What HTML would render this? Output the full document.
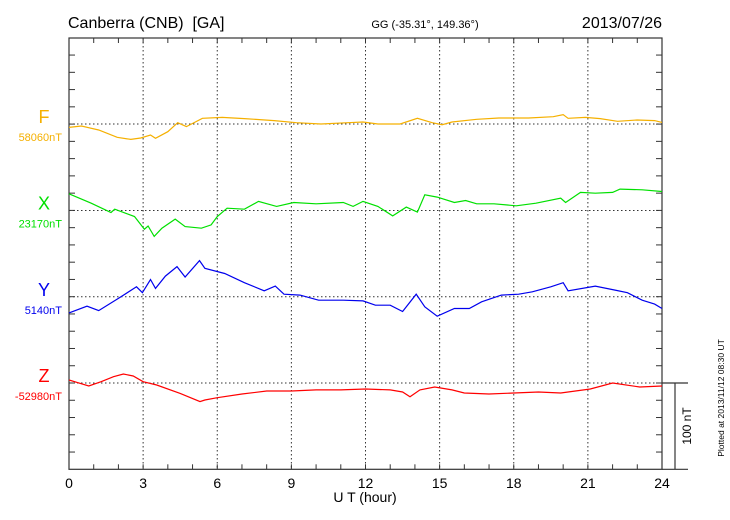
<!DOCTYPE html>
<html><head><meta charset="utf-8"><style>
body{margin:0;background:#fff;width:730px;height:520px;overflow:hidden}
svg{display:block;font-family:"Liberation Sans",sans-serif}
</style></head><body>
<svg id="chart" width="730" height="520" viewBox="0 0 730 520">
<text x="68" y="28" font-size="16" xml:space="preserve" style="white-space:pre">Canberra (CNB)  [GA]</text>
<text x="425" y="28" font-size="11" text-anchor="middle">GG (-35.31°, 149.36°)</text>
<text x="662" y="28" font-size="16" text-anchor="end">2013/07/26</text>
<text x="365" y="502" font-size="14" text-anchor="middle">U T (hour)</text>
<text transform="translate(691,426) rotate(-90)" font-size="12" text-anchor="middle">100 nT</text>
<text transform="translate(724,398) rotate(-90)" font-size="8.5" text-anchor="middle">Plotted at 2013/11/12 08:30 UT</text>
<g id="g"></g>
</svg>
<script>
const hoursF=[0,0.5,1.2,1.95,2.5,2.9,3.3,3.5,4.0,4.4,4.75,5.4,6.2,7.1,8.3,9.2,10.2,11.3,11.9,12.5,13.4,14.1,14.7,15.1,15.5,16.5,17.4,18.6,19.6,20.0,20.2,20.9,21.5,22.2,23.0,23.7,24];
const valsF=[-3.9,-2.3,-7,-15.4,-17.8,-16.2,-12.7,-16.6,-8.9,1.5,-3,6.6,7.7,6.2,3.9,1.5,0,1.5,2.3,0,0,6.6,1.5,-0.8,2.3,5.4,7,7,8.5,10.8,6.6,7.7,6.2,3.1,4.6,3.9,1.9];
const hoursX=[0,0.9,1.7,1.85,2.65,3.05,3.2,3.45,3.76,4.3,4.7,5.36,5.75,6.0,6.4,7.1,7.67,8.4,9.1,10.0,11.1,11.5,11.9,12.5,13.1,13.65,14.1,14.4,14.9,15.6,16.05,16.5,17.2,18.1,18.9,19.9,20.1,20.7,21.3,22.0,22.3,23.2,24];
const valsX=[19.4,8.5,-2.3,1.5,-7,-21.7,-18,-30,-20.5,-10,-18.6,-20.5,-16.7,-7,2.7,1.5,10.5,4.7,9.3,7.8,9.3,4.7,10.5,4.7,-6.2,3.9,-1.9,18.2,15.5,9.3,11.6,7.8,7.8,5.4,8.5,14.3,9.3,21,20,21,24.8,24,22];
const hoursY=[0,0.73,1.2,2.0,2.73,2.97,3.3,3.5,3.9,4.37,4.7,5.28,5.5,6.3,7.1,7.9,8.35,8.7,9.35,10.1,11.1,11.9,12.4,13.0,13.5,14.05,14.4,14.9,15.6,16.2,16.7,17.5,18.2,18.75,19.5,20.0,20.2,21.3,22.1,22.6,23.2,23.7,24];
const valsY=[-18.6,-10.9,-16,-1.9,11.6,4.7,20,9.7,24,35,23,42,33,27,16.3,7,12.4,3,2,-3.9,-3.9,-4.7,-9.7,-9.7,-17,3,-11.6,-22.5,-13.6,-13.6,-5.8,2,3,5.8,11.6,16.3,7,12.4,7.8,4.7,-3.9,-8.5,-13.6];
const hoursZ=[0,0.8,1.3,1.8,2.2,2.6,3.0,3.55,4.5,5.3,5.5,6,7,8,9,10,11,12,13,13.5,13.8,14.2,14.8,15.5,16,17,18,19,19.9,21.1,22.0,23.1,24];
const valsZ=[3.5,-3.5,1.5,7.3,10.4,8.1,1.5,-2.3,-12,-21.6,-19.7,-17,-12.7,-9.3,-9.3,-8,-8,-7,-8,-10.4,-16,-8,-4.6,-8,-11.6,-12.7,-11.6,-10.4,-11.6,-7,0,-4.6,-3.5];
const xTickLabels=["0","3","6","9","12","15","18","21","24"];
const baseLabels=["58060nT","23170nT","5140nT","-52980nT"];
const compNames=["F","X","Y","Z"];

const NS="http://www.w3.org/2000/svg",g=document.getElementById('g');
const X0=69,X1=662,Y0=38,Y1=469.3,PXH=(X1-X0)/24,PXNT=0.863;
const bases=[124,210.5,296.8,383];
const colors=["#f5b000","#00e000","#0000ee","#ff0000"];
const xs=h=>X0+h*PXH;
const ys=(b,v)=>bases[b]-v*PXNT;
function el(t,a){const e=document.createElementNS(NS,t);for(const k in a)e.setAttribute(k,a[k]);g.appendChild(e);return e;}
for(let i=1;i<8;i++){const l=el('line',{x1:xs(i*3),x2:xs(i*3),y1:Y0,y2:Y1,stroke:'#333','stroke-dasharray':'1.5,2.5','stroke-width':1});

}
bases.forEach(b=>{const l=el('line',{x1:X0,x2:X1,y1:b,y2:b,stroke:'#333','stroke-dasharray':'1.5,2.5','stroke-width':1});

});
const fr=el('rect',{x:X0,y:Y0,width:X1-X0,height:Y1-Y0,fill:'none',stroke:'#333','stroke-width':1.2});


for(let h=1;h<24;h++){el('line',{x1:xs(h),x2:xs(h),y1:Y0,y2:Y0+5,stroke:'#333'});el('line',{x1:xs(h),x2:xs(h),y1:Y1,y2:Y1-5,stroke:'#333'});}
for(let i=1;i<25;i++){const y=Y1-i*17.26;el('line',{x1:X0,x2:X0+6,y1:y,y2:y,stroke:'#333'});el('line',{x1:X1,x2:X1-6,y1:y,y2:y,stroke:'#333'});}
xTickLabels.forEach((t,i)=>{const e=el('text',{x:xs(i*3),y:488,'font-size':14,'text-anchor':'middle'});e.textContent=t;

});
el('line',{x1:X1,x2:688,y1:383,y2:383,stroke:'#333','stroke-width':1.2});
el('line',{x1:X1,x2:688,y1:Y1,y2:Y1,stroke:'#333','stroke-width':1.2});
const sb=el('line',{x1:675,x2:675,y1:383,y2:Y1,stroke:'#333','stroke-width':1.2});


const H=[hoursF,hoursX,hoursY,hoursZ],V=[valsF,valsX,valsY,valsZ];
for(let s=0;s<4;s++){
 const p=el('polyline',{points:H[s].map((h,i)=>xs(h).toFixed(1)+','+ys(s,V[s][i]).toFixed(1)).join(' '),fill:'none',stroke:colors[s],'stroke-width':1.2});
 
 
 const n=el('text',{x:44,y:bases[s]-1,'font-size':18,'text-anchor':'middle',fill:colors[s]});n.textContent=compNames[s];
 
 
 const b=el('text',{x:62,y:bases[s]+17,'font-size':11,'text-anchor':'end',fill:colors[s]});b.textContent=baseLabels[s];
 
 
}
</script>
</body></html>
